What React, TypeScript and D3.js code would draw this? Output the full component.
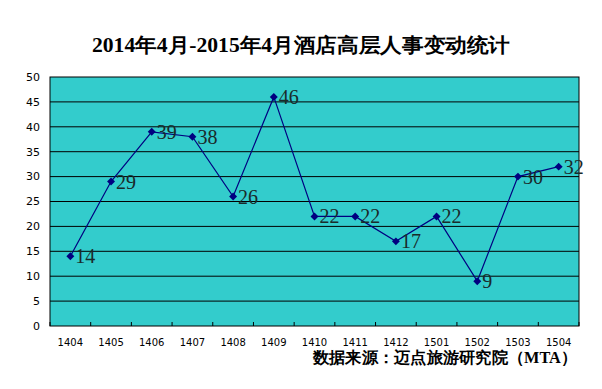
import * as d3 from 'd3'

const months = ['1404', '1405', '1406', '1407', '1408', '1409', '1410', '1411', '1412', '1501', '1502', '1503', '1504']
const counts = [14, 29, 39, 38, 26, 46, 22, 22, 17, 22, 9, 30, 32]
const yTicks = [0, 5, 10, 15, 20, 25, 30, 35, 40, 45, 50]

const title = '2014年4月-2015年4月酒店高层人事变动统计'
const source = '数据来源：迈点旅游研究院（MTA）'

export default function App() {
  const width = 602
  const height = 389
  const margin = { top: 77, right: 23, bottom: 63, left: 50 }
  const innerW = width - margin.left - margin.right
  const innerH = height - margin.top - margin.bottom

  const x = d3.scaleBand().domain(months).range([0, innerW])
  const y = d3.scaleLinear().domain([0, 50]).range([innerH, 0])

  const line = d3.line<number>()
    .x((_, i) => x(months[i])! + x.bandwidth() / 2)
    .y(d => y(d))

  const diamond = d3.symbol().type(d3.symbolDiamond2).size(40)()

  const bounds = [...months.map(m => x(m)!), innerW]

  return (
    <svg width={width} height={height} style={{ position: 'absolute', left: 0, top: 0 }}>
      <rect width={width} height={height} fill="#fff" />
      <text x={92} y={52} textLength={418} lengthAdjust="spacingAndGlyphs" fontFamily="'Liberation Serif', serif" fontWeight="bold" fontSize={20} fill="#000">{title}</text>
      <g transform={`translate(${margin.left},${margin.top})`}>
        <rect width={innerW} height={innerH} fill="#33CCCC" stroke="#000" strokeWidth={1} />
        {yTicks.map(t => (
          <g key={t}>
            {t > 0 && t < 50 && <line x1={0} x2={innerW} y1={y(t)} y2={y(t)} stroke="#000" strokeWidth={1} />}
            <text x={-10} y={y(t)} dy="0.35em" textAnchor="end" fontFamily="'DejaVu Sans', sans-serif" fontSize={11} fill="#000">{t}</text>
          </g>
        ))}
        {bounds.map((b, i) => (
          <line key={i} x1={b} x2={b} y1={innerH} y2={innerH - 4} stroke="#000" strokeWidth={1} />
        ))}
        {months.map(m => (
          <text key={m} x={x(m)! + x.bandwidth() / 2} y={innerH + 20} textAnchor="middle" fontFamily="'DejaVu Sans', sans-serif" fontSize={10} fill="#000">{m}</text>
        ))}
        <path d={line(counts)!} fill="none" stroke="#000080" strokeWidth={1.2} />
        {counts.map((c, i) => {
          const cx = x(months[i])! + x.bandwidth() / 2
          const cy = y(c)
          return (
            <g key={i}>
              <path d={diamond!} transform={`translate(${cx},${cy})`} fill="#000080" />
              <text x={cx + 5} y={cy} dy="0.35em" fontFamily="'Liberation Serif', serif" fontSize={20} fill="#1a2a2a">{c}</text>
            </g>
          )
        })}
      </g>
      <text x={313} y={363} textLength={264} lengthAdjust="spacingAndGlyphs" fontFamily="'Liberation Serif', serif" fontWeight="bold" fontSize={16} fill="#000">{source}</text>
    </svg>
  )
}
